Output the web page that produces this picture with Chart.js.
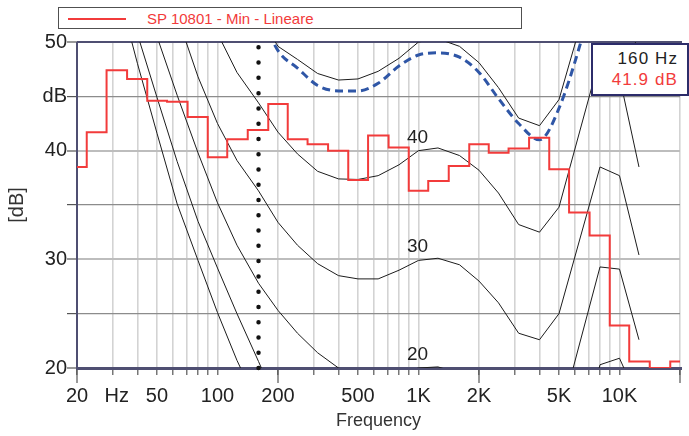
<!DOCTYPE html>
<html>
<head>
<meta charset="utf-8">
<script src="https://cdn.jsdelivr.net/npm/chart.js@4.4.1/dist/chart.umd.min.js"></script>
<style>
html,body{margin:0;padding:0;background:#fff;}
#wrap{position:relative;width:689px;height:436px;overflow:hidden;font-family:'Liberation Sans',Arial,sans-serif;}
#c{position:absolute;left:0;top:0;}
#legend{position:absolute;left:58px;top:7px;width:462px;height:20px;border:1px solid #505050;background:#fff;}
#legend .sw{position:absolute;left:9px;top:10px;width:58px;height:0;border-top:2px solid #f23b3b;}
#legend .txt{position:absolute;left:88px;top:1px;font-size:15px;line-height:20px;color:#f23b3b;white-space:nowrap;}
#cursor{position:absolute;left:591px;top:43px;width:94px;height:49px;border:2px solid #2c2c6a;background:#fff;text-align:right;padding-top:0;}
#cursor div{font-size:17px;line-height:21px;letter-spacing:1.1px;padding-right:9px;white-space:nowrap;}
#cursor .f{color:#222;margin-top:3px;}
#cursor .v{color:#f23b3b;}
</style>
</head>
<body>
<div id="wrap">
  <canvas id="c" width="689" height="436"></canvas>
  <div id="legend"><div class="sw"></div><div class="txt" id="legendText"></div></div>
  <div id="cursor"><div class="f" id="curF"></div><div class="v" id="curV"></div></div>
</div>
<script>
// ---------- data ----------
const seriesName = 'SP 10801 - Min - Lineare';
const bandFreqs = [20,25,31.5,40,50,63,80,100,125,160,200,250,315,400,500,630,800,1000,1250,1600,2000,2500,3150,4000,5000,6300,8000,10000,12500,16000,20000];
const spectrumDb = [38.5,41.7,47.4,46.6,44.6,44.5,43.1,39.4,41.05,41.9,44.3,41.05,40.6,40.0,37.3,41.4,40.3,36.3,37.2,38.6,40.6,39.8,40.2,41.2,38.3,34.3,32.2,23.9,20.6,20.0,20.6];

const contourFreqs = [20,25,31.5,40,50,63,80,100,125,160,200,250,315,400,500,630,800,1000,1250,1600,2000,2500,3150,4000,5000,8000,10000,12500];
const contour0  = [70,62.5,55.3,48.0,41.6,35.1,29.9,25.1,20.7,16.5,13.0,10.0,7.5,5.5,4.0,3.0,2.5,2.5,2.5,1.5,0,-2,-4.5,-5,-3,11,11.5,7];
const contour10 = [70,64,57.2,50.7,44.9,39.0,33.5,29.2,25.0,20.6,16.5,13.5,11.5,10.5,10.0,9.8,9.8,10.0,10.1,9.5,8.0,6.0,3.5,2.8,5.2,20.3,20.9,16.9];
const contour20 = [72,67,62,56.5,50.5,45.1,39.8,35.2,31.3,27.8,25.3,23.2,21.4,20.0,19.3,19.2,19.5,20.0,20.1,19.5,18.0,16.0,13.3,12.7,15.1,29.3,29.1,22.6];
const contour30 = [78,72,66,61,56.5,52.4,46.8,42.5,39.1,36.3,33.4,31.3,29.6,28.5,28.2,28.2,29.0,29.9,30.1,29.5,28.0,26.0,23.2,22.6,25.0,38.5,37.7,30.4];
const contour40 = [85,79,73,67,62,58.5,54.5,50.8,47.2,44.4,41.7,39.7,38.1,37.4,37.35,37.7,38.7,40.0,40.25,39.55,38.2,36.1,33.2,32.5,34.8,48.6,46.8,38.5];
const contour50 = [90,84,78,72,67,64.5,61.5,58.5,55.5,52.5,49.6,48.4,47.1,46.5,46.6,47.3,48.5,50.0,50.3,49.6,48.1,45.8,43.0,42.3,44.7,57.8,56.5,48.5];
const contourLabels = [20,30,40];

const loudFreqs = [125,160,200,250,315,400,500,630,800,1000,1250,1600,2000,2500,3150,4000,5000,8000];
const loudDb    = [56,53,49.2,47.6,46.0,45.5,45.5,46.2,47.8,48.8,49.0,48.6,47.2,44.8,42.5,41.0,43.9,56];

const cursorIndex = 9; // 160 Hz band

const xLabelValues = [20,31.5,50,100,200,500,1000,2000,5000,10000];
const xLabelTexts  = ['20','Hz','50','100','200','500','1K','2K','5K','10K'];
const xLongTicks   = [20,200,2000,20000];
const yLabelValues = [50,45,40,30,20];
const yLabelTexts  = ['50','dB','40','30','20'];

// ---------- helpers ----------
const pts = (xs, ys) => xs.map((x, i) => ({x: x, y: ys[i]}));
const gridValues = [];
for (let d = 10; d <= 10000; d *= 10) {
  for (let m = 1; m <= 9; m++) {
    const v = m * d;
    if (v >= 20 && v <= 20000) gridValues.push(v);
  }
}
if (gridValues.indexOf(20000) < 0) gridValues.push(20000);
const hiddenTick = 31.5;
const allXTicks = gridValues.concat([hiddenTick]).sort((a, b) => a - b);

document.getElementById('legendText').textContent = seriesName;
document.getElementById('curF').textContent = bandFreqs[cursorIndex] + ' Hz';
document.getElementById('curV').textContent = spectrumDb[cursorIndex].toFixed(1) + ' dB';

Chart.defaults.font.family = "'Liberation Sans', Arial, sans-serif";
Chart.defaults.color = '#222';

const framePlugin = {
  id: 'frame',
  beforeDatasetsDraw(chart) {
    const {ctx, chartArea: a, scales} = chart;
    ctx.save();
    ctx.strokeStyle = '#555';
    ctx.lineWidth = 1.2;
    xLongTicks.forEach(v => {
      const px = scales.x.getPixelForValue(v);
      ctx.beginPath();
      ctx.moveTo(px, a.bottom);
      ctx.lineTo(px, a.bottom + 15);
      ctx.stroke();
    });
    ctx.strokeStyle = '#4f4f72';
    ctx.lineWidth = 2;
    ctx.beginPath();
    ctx.moveTo(a.left, a.top); ctx.lineTo(a.right + 2, a.top);
    ctx.moveTo(a.left, a.top); ctx.lineTo(a.left, a.bottom);
    ctx.stroke();
    ctx.lineWidth = 3;
    ctx.beginPath();
    ctx.moveTo(a.left - 1, a.bottom + 0.5); ctx.lineTo(a.right + 2, a.bottom + 0.5);
    ctx.stroke();
    ctx.restore();
  },
  afterDatasetsDraw(chart) {
    const {ctx, scales} = chart;
    ctx.save();
    ctx.fillStyle = '#222';
    ctx.font = "19px 'Liberation Sans', Arial, sans-serif";
    ctx.textAlign = 'center';
    ctx.textBaseline = 'middle';
    contourLabels.forEach(l => {
      ctx.fillText(String(l), scales.x.getPixelForValue(990), scales.y.getPixelForValue(l + 1.2));
    });
    ctx.restore();
  }
};

const contourStyle = {borderColor: '#1c1c1c', borderWidth: 1, pointRadius: 0, tension: 0, fill: false};

new Chart(document.getElementById('c'), {
  type: 'line',
  data: {
    datasets: [
      {label: 'cursor', data: [{x: bandFreqs[cursorIndex], y: 20}, {x: bandFreqs[cursorIndex], y: 50}],
       borderColor: '#111', borderWidth: 4.5, borderDash: [0, 15.27], borderCapStyle: 'round',
       pointRadius: 0, clip: false},
      {label: seriesName, data: pts(bandFreqs, spectrumDb), stepped: 'middle',
       borderColor: '#f23b3b', borderWidth: 2, pointRadius: 0},
      {label: 'loudness', data: pts(loudFreqs, loudDb), borderColor: '#2f56a6', borderWidth: 3,
       borderDash: [8, 5], cubicInterpolationMode: 'monotone', pointRadius: 0},
      Object.assign({label: '50', data: pts(contourFreqs, contour50)}, contourStyle),
      Object.assign({label: '40', data: pts(contourFreqs, contour40)}, contourStyle),
      Object.assign({label: '30', data: pts(contourFreqs, contour30)}, contourStyle),
      Object.assign({label: '20', data: pts(contourFreqs, contour20)}, contourStyle),
      Object.assign({label: '10', data: pts(contourFreqs, contour10)}, contourStyle),
      Object.assign({label: '0', data: pts(contourFreqs, contour0)}, contourStyle)
    ]
  },
  options: {
    responsive: false,
    animation: false,
    devicePixelRatio: 1,
    layout: {padding: {top: 42, left: 0, right: 0, bottom: 0}},
    plugins: {legend: {display: false}, tooltip: {enabled: false}},
    scales: {
      x: {
        type: 'logarithmic', min: 20, max: 20000,
        afterBuildTicks: s => { s.ticks = allXTicks.map(v => ({value: v})); },
        afterFit: s => { s.height = 68; },
        ticks: {
          autoSkip: false, maxRotation: 0, minRotation: 0, padding: 9,
          font: {size: 20}, color: '#222',
          callback: v => { const i = xLabelValues.indexOf(v); return i >= 0 ? xLabelTexts[i] : ''; }
        },
        grid: {
          color: c => (c.tick && c.tick.value === hiddenTick) ? 'rgba(0,0,0,0)' : '#d3d3d3',
          lineWidth: 1.6, tickLength: 7, tickWidth: 1.2,
          tickColor: c => (c.tick && c.tick.value === hiddenTick) ? 'rgba(0,0,0,0)' : '#555'
        },
        border: {display: false},
        title: {display: true, text: 'Frequency', font: {size: 18}, color: '#333', padding: {top: 0, bottom: 4}}
      },
      y: {
        type: 'linear', min: 20, max: 50,
        afterFit: s => { s.width = 77; },
        ticks: {
          stepSize: 5, padding: 0, font: {size: 20}, color: '#222',
          callback: v => { const i = yLabelValues.indexOf(v); return i >= 0 ? yLabelTexts[i] : ''; }
        },
        grid: {
          color: c => (c.tick && c.tick.value % 10 === 0) ? '#bdbdbd' : '#8c8c8c',
          lineWidth: c => (c.tick && c.tick.value % 10 === 0) ? 2 : 1.2,
          tickLength: 10, tickWidth: 1.2, tickColor: '#555'
        },
        border: {display: false},
        title: {display: true, text: '[dB]', font: {size: 20}, color: '#333', padding: {top: 5}}
      }
    }
  },
  plugins: [framePlugin]
});
</script>
</body>
</html>
